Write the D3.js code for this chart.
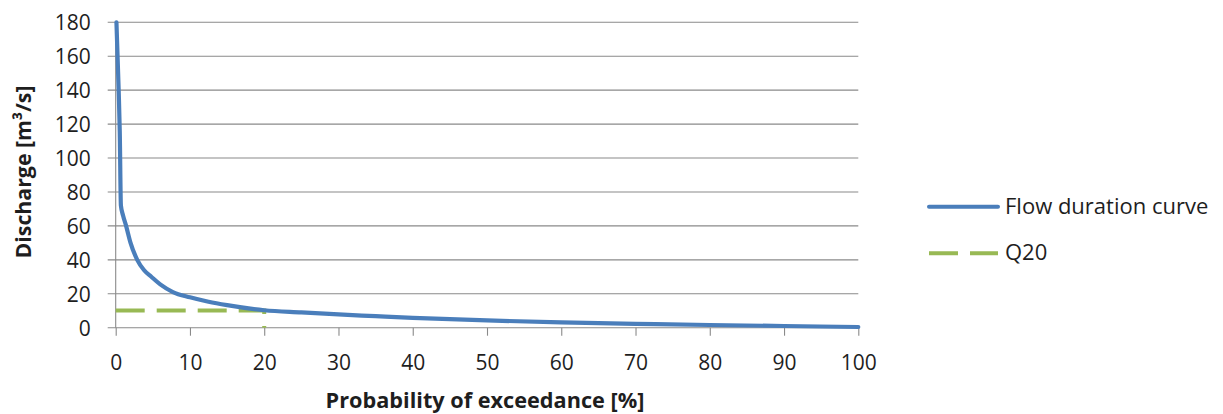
<!DOCTYPE html>
<html>
<head>
<meta charset="utf-8">
<script src="https://cdn.jsdelivr.net/npm/d3@7"></script>
<style>
  html, body { margin: 0; padding: 0; background: #fff; }
  svg { display: block; }
  text { font-family: "Open Sans", "Liberation Sans", sans-serif; fill: #1e1e1e; }
</style>
</head>
<body>
<svg id="chart" width="1223" height="414"></svg>
<script>
// Flow duration curve: discharge vs. probability of exceedance
const exceedance = [0.1, 0.4, 0.55, 0.7, 1.0, 1.4, 2.0, 2.9, 3.8, 4.8, 6.0, 7.7, 10, 12.5, 15, 20, 25, 30, 35, 40, 50, 60, 70, 80, 90, 100];
const discharge  = [180, 140, 115, 72, 66, 60, 50, 40, 34, 30, 25.5, 21, 17.9, 15.3, 13.3, 10.3, 9.0, 7.8, 6.8, 5.8, 4.3, 3.1, 2.3, 1.6, 1.0, 0.4];

// Q20 reference: discharge exceeded 20 % of the time
const q20x = [0, 20, 20];
const q20y = [10.1, 10.1, 0];

const xTicks = [0, 10, 20, 30, 40, 50, 60, 70, 80, 90, 100];
const yTicks = [0, 20, 40, 60, 80, 100, 120, 140, 160, 180];

const seriesNames = ["Flow duration curve", "Q20"];
const seriesColors = ["#4a7ebb", "#98b954"];

const svg = d3.select("#chart");
const plotLeft = 115.7, plotRight = 858.3, plotTop = 22.3, plotBottom = 327.7;

const x = d3.scaleLinear().domain([0, 100]).range([plotLeft, plotRight]);
const y = d3.scaleLinear().domain([0, 180]).range([plotBottom, plotTop]);

const gridColor = "#8a8a8a";
const tickFont = "21px";

// horizontal gridlines, extended left past the axis as tick marks
svg.append("g")
  .selectAll("line")
  .data(yTicks)
  .join("line")
  .attr("x1", plotLeft - 8).attr("x2", plotRight)
  .attr("y1", d => y(d)).attr("y2", d => y(d))
  .attr("stroke", gridColor).attr("stroke-width", 1.1);

// y axis
const yAxis = svg.append("g")
  .attr("transform", `translate(${plotLeft},0)`)
  .call(d3.axisLeft(y).tickValues(yTicks).tickSize(8).tickPadding(17).tickFormat(d3.format("d")));
yAxis.select(".domain").remove();
yAxis.selectAll(".tick line").remove();
yAxis.selectAll(".tick text")
  .attr("font-size", tickFont).attr("font-family", null).attr("fill", "#1e1e1e")
  .attr("dy", "0.36em");

svg.append("line")
  .attr("x1", plotLeft).attr("x2", plotLeft).attr("y1", plotTop).attr("y2", plotBottom)
  .attr("stroke", gridColor).attr("stroke-width", 1.1);

// x axis
const xAxis = svg.append("g")
  .attr("transform", `translate(0,${plotBottom})`)
  .call(d3.axisBottom(x).tickValues(xTicks).tickSize(8).tickPadding(19).tickFormat(d3.format("d")));
xAxis.select(".domain").remove();
xAxis.selectAll(".tick line").attr("stroke", gridColor).attr("stroke-width", 1.1);
xAxis.selectAll(".tick text")
  .attr("font-size", tickFont).attr("font-family", null).attr("fill", "#1e1e1e");

// axis titles
svg.append("text")
  .attr("x", (plotLeft + plotRight) / 2 - 2).attr("y", 407.5)
  .attr("text-anchor", "middle")
  .attr("font-size", "21.7px").attr("font-weight", "bold")
  .text("Probability of exceedance [%]");

svg.append("text")
  .attr("transform", `translate(31,${(plotTop + plotBottom) / 2 - 3}) rotate(-90)`)
  .attr("text-anchor", "middle")
  .attr("font-size", "21.3px").attr("font-weight", "bold")
  .text("Discharge [m³/s]");

// curves
const fdc = exceedance.map((p, i) => [p, discharge[i]]);
const q20 = q20x.map((p, i) => [p, q20y[i]]);

svg.append("path")
  .datum(q20)
  .attr("d", d3.line().x(d => x(d[0])).y(d => y(d[1])))
  .attr("fill", "none")
  .attr("stroke", seriesColors[1])
  .attr("stroke-width", 4)
  .attr("stroke-dasharray", "29 12");

svg.append("path")
  .datum(fdc)
  .attr("d", d3.line().curve(d3.curveMonotoneX).x(d => x(d[0])).y(d => y(d[1])))
  .attr("fill", "none")
  .attr("stroke", seriesColors[0])
  .attr("stroke-width", 4.2)
  .attr("stroke-linejoin", "round")
  .attr("stroke-linecap", "round");

// legend
const legend = svg.append("g");
const legendY = [206.7, 253.3];
seriesNames.forEach((name, i) => {
  legend.append("line")
    .attr("x1", 929).attr("x2", 998)
    .attr("y1", legendY[i]).attr("y2", legendY[i])
    .attr("stroke", seriesColors[i])
    .attr("stroke-width", 4)
    .attr("stroke-linecap", i === 0 ? "round" : "butt")
    .attr("stroke-dasharray", i === 1 ? "29 12" : null);
  legend.append("text")
    .attr("x", 1005).attr("y", legendY[i] + 7)
    .attr("font-size", "22px")
    .text(name);
});
</script>
</body>
</html>
